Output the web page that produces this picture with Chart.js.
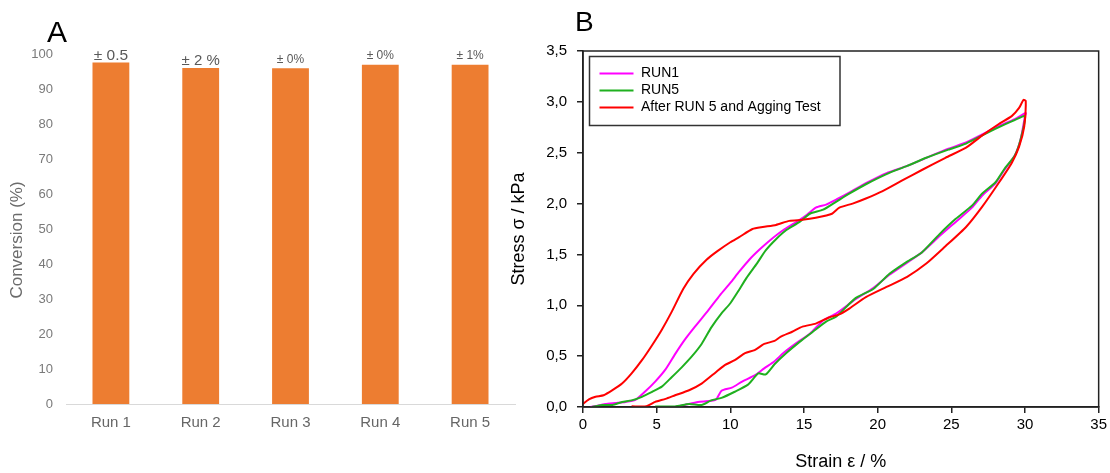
<!DOCTYPE html>
<html><head><meta charset="utf-8">
<script src="https://cdn.jsdelivr.net/npm/chart.js@4/dist/chart.umd.min.js"></script>
<style>
html,body{margin:0;padding:0;background:#fff;width:1110px;height:473px;overflow:hidden;}
#wrapA{position:absolute;left:0;top:0;width:520px;height:473px;}
#wrapB{position:absolute;left:500px;top:0;width:610px;height:473px;}
canvas{display:block;}
</style></head><body>
<div id="wrapA"><canvas id="chartA" width="520" height="473"></canvas></div>
<div id="wrapB"><canvas id="chartB" width="610" height="473"></canvas></div>
<script>
// ---------- Panel A data ----------
const runs = ['Run 1', 'Run 2', 'Run 3', 'Run 4', 'Run 5'];
const conversion = [97.6, 96.0, 95.9, 96.9, 96.9];
const conversionErr = ['± 0.5', '± 2 %', '± 0%', '± 0%', '± 1%'];

// ---------- Panel B data ----------
const strainTicks = ['0', '5', '10', '15', '20', '25', '30', '35'];
const stressTicks = ['0,0', '0,5', '1,0', '1,5', '2,0', '2,5', '3,0', '3,5'];
const seriesNames = ['RUN1', 'RUN5', 'After RUN 5 and Agging Test'];

const run1Strain = [0.5,0.85,1.5,2.2,2.9,3.55,4.2,4.9,5.6,6.25,6.9,7.6,8.5,9.3,10.0,10.6,11.3,12.0,12.7,13.6,14.5,15.2,15.8,16.5,17.2,18.1,19.2,20.6,22.0,23.3,24.8,26.0,27.1,28.2,29.3,30.05,
  30.0,29.7,29.3,28.6,28.0,27.1,26.4,25.3,24.2,23.0,21.9,20.8,19.7,18.5,17.2,16.3,15.4,14.5,13.6,13.0,12.3,11.65,10.8,10.1,9.4,9.0,7.8,6.9,6.25];
const run1Stress = [0,0.01,0.03,0.04,0.05,0.07,0.15,0.25,0.37,0.52,0.66,0.79,0.95,1.10,1.22,1.33,1.45,1.55,1.64,1.74,1.82,1.89,1.96,1.99,2.04,2.11,2.20,2.30,2.37,2.45,2.54,2.60,2.68,2.76,2.83,2.89,
  2.86,2.63,2.47,2.33,2.20,2.08,1.96,1.82,1.68,1.52,1.41,1.30,1.17,1.06,0.92,0.85,0.72,0.63,0.53,0.45,0.38,0.31,0.25,0.19,0.16,0.07,0.05,0.02,0];

const run5Strain = [0.6,1.3,2.0,2.65,3.3,4.0,4.7,5.35,6.0,6.7,7.4,8.05,8.7,9.4,10.0,10.5,11.1,11.8,12.4,13.1,13.8,14.7,15.4,16.3,17.2,18.1,19.2,20.6,22.0,23.3,24.8,26.0,27.1,28.2,29.3,30.0,
  29.7,29.3,28.6,28.0,27.1,26.4,25.3,24.2,23.0,21.9,20.8,19.7,18.5,17.2,16.5,15.6,14.7,13.8,13.0,12.4,11.9,11.2,10.3,9.4,8.7,8.05,7.2,6.25,4.9];
const run5Stress = [0,0.02,0.02,0.05,0.065,0.10,0.15,0.20,0.29,0.39,0.50,0.62,0.78,0.92,1.02,1.13,1.27,1.41,1.54,1.65,1.74,1.82,1.90,1.94,2.02,2.10,2.19,2.29,2.37,2.45,2.53,2.59,2.67,2.75,2.82,2.86,
  2.63,2.47,2.34,2.21,2.10,1.98,1.85,1.70,1.52,1.42,1.31,1.16,1.07,0.89,0.84,0.74,0.64,0.53,0.42,0.32,0.33,0.22,0.15,0.09,0.065,0.02,0.03,0.005,0.005];

const agedStrain = [0,0.4,0.85,1.4,2.0,2.65,3.3,4.0,4.7,5.35,6.0,6.8,7.5,8.4,9.1,10.0,10.6,11.5,12.2,13.1,14.0,14.9,15.8,16.9,17.4,18.3,19.2,20.3,21.7,23.0,24.6,26.0,27.1,28.2,29.1,29.6,29.9,30.05,
  29.95,29.6,29.1,28.2,27.1,26.0,24.6,23.3,22.0,20.6,19.2,18.1,17.4,16.7,15.8,14.9,14.2,13.4,13.0,12.3,11.65,11.0,10.3,9.6,9.0,8.05,7.2,6.25,5.6,4.9,4.3,3.3];
const agedStress = [0.03,0.075,0.10,0.115,0.165,0.23,0.33,0.46,0.61,0.76,0.93,1.16,1.31,1.45,1.53,1.62,1.67,1.75,1.77,1.79,1.83,1.84,1.86,1.90,1.96,2.00,2.05,2.12,2.23,2.33,2.45,2.55,2.67,2.78,2.86,2.94,3.02,3.01,
  2.76,2.56,2.40,2.20,1.97,1.77,1.58,1.41,1.28,1.18,1.08,0.97,0.91,0.88,0.82,0.79,0.74,0.69,0.65,0.62,0.56,0.53,0.46,0.41,0.34,0.23,0.165,0.115,0.08,0.05,0.007,0.007];

// ---------- styles ----------
const FONT = "'Liberation Sans', Arial, sans-serif";
const errFontSizes = [15.5, 15, 12, 12, 12];
const errGaps = [2.5, 3, 5.5, 5.5, 5.5];
const seriesColors = ['#ff00ff', '#1fb01f', '#ff0000'];
Chart.defaults.font.family = FONT;

const toPoints = (xs, ys) => xs.map((x, i) => ({ x: x, y: ys[i] }));

// ---------- Panel A ----------
const barLabelPlugin = {
  id: 'barLabels',
  afterDatasetsDraw(chart) {
    const ctx = chart.ctx;
    const meta = chart.getDatasetMeta(0);
    ctx.save();
    ctx.fillStyle = '#595959';
    ctx.textAlign = 'center';
    ctx.textBaseline = 'alphabetic';
    meta.data.forEach((bar, i) => {
      ctx.font = errFontSizes[i] + 'px ' + FONT;
      ctx.fillText(conversionErr[i], bar.x, bar.y - errGaps[i]);
    });
    ctx.restore();
  }
};
const panelAPlugin = {
  id: 'panelA',
  afterDraw(chart) {
    const ctx = chart.ctx;
    ctx.save();
    ctx.font = '30px ' + FONT;
    ctx.fillStyle = '#000';
    ctx.textAlign = 'left';
    ctx.textBaseline = 'alphabetic';
    ctx.fillText('A', 47, 42);
    ctx.translate(17.5, 240);
    ctx.rotate(-Math.PI / 2);
    ctx.font = '17px ' + FONT;
    ctx.fillStyle = '#6b6b6b';
    ctx.textAlign = 'center';
    ctx.textBaseline = 'middle';
    ctx.fillText('Conversion (%)', 0, 0);
    ctx.restore();
  }
};

new Chart(document.getElementById('chartA'), {
  type: 'bar',
  data: {
    labels: runs,
    datasets: [{ data: conversion, backgroundColor: '#ED7D31', borderWidth: 0, barPercentage: 0.41, categoryPercentage: 1 }]
  },
  options: {
    responsive: false, animation: false, devicePixelRatio: 1,
    layout: { padding: { left: 0, top: 54, right: 5, bottom: 0 } },
    plugins: { legend: { display: false }, tooltip: { enabled: false } },
    scales: {
      x: {
        grid: { display: false, drawTicks: false },
        border: { display: true, color: '#d9d9d9', width: 1 },
        ticks: { color: '#666', font: { size: 15 }, padding: 10 },
        afterFit: s => { s.height = 69; }
      },
      y: {
        min: 0, max: 100,
        ticks: { stepSize: 10, color: '#7a7a7a', font: { size: 13 }, padding: 13 },
        grid: { display: false, drawTicks: false },
        border: { display: false },
        afterFit: s => { s.width = 66; }
      }
    }
  },
  plugins: [barLabelPlugin, panelAPlugin]
});

// ---------- Panel B ----------
const frameLegendPlugin = {
  id: 'frameLegend',
  afterDraw(chart) {
    const ctx = chart.ctx;
    const a = chart.chartArea;
    ctx.save();
    ctx.strokeStyle = '#222';
    ctx.lineWidth = 1.5;
    ctx.strokeRect(a.left, a.top, a.right - a.left, a.bottom - a.top);
    const bx = 89.5, by = 56.5, bw = 250.5, bh = 69;
    ctx.fillStyle = '#fff';
    ctx.fillRect(bx, by, bw, bh);
    ctx.strokeStyle = '#333';
    ctx.lineWidth = 1.5;
    ctx.strokeRect(bx, by, bw, bh);
    ctx.font = '14px ' + FONT;
    ctx.textBaseline = 'middle';
    ctx.textAlign = 'left';
    ctx.fillStyle = '#000';
    const rows = [73.5, 90.5, 107.5];
    chart.data.datasets.forEach((ds, i) => {
      ctx.strokeStyle = ds.borderColor;
      ctx.lineWidth = 2;
      ctx.beginPath();
      ctx.moveTo(99.5, rows[i]);
      ctx.lineTo(133.5, rows[i]);
      ctx.stroke();
      ctx.fillText(ds.label, 141, rows[i]);
    });
    ctx.font = '28px ' + FONT;
    ctx.textBaseline = 'alphabetic';
    ctx.fillText('B', 75, 31);
    ctx.restore();
  }
};

const axisGrid = { drawOnChartArea: false, drawTicks: true, tickLength: 6, color: '#222', lineWidth: 1.5 };
const axisBorder = { display: true, color: '#222', width: 1.5 };

new Chart(document.getElementById('chartB'), {
  type: 'scatter',
  data: {
    datasets: [
      { label: seriesNames[0], data: toPoints(run1Strain, run1Stress), borderColor: seriesColors[0], order: 2 },
      { label: seriesNames[1], data: toPoints(run5Strain, run5Stress), borderColor: seriesColors[1], order: 1 },
      { label: seriesNames[2], data: toPoints(agedStrain, agedStress), borderColor: seriesColors[2], order: 0 }
    ].map(d => Object.assign(d, { showLine: true, pointRadius: 0, borderWidth: 2, tension: 0.2, fill: false, backgroundColor: d.borderColor }))
  },
  options: {
    responsive: false, animation: false, devicePixelRatio: 1,
    layout: { padding: { left: 0, top: 51, right: 10, bottom: 0 } },
    plugins: { legend: { display: false }, tooltip: { enabled: false } },
    scales: {
      x: {
        type: 'linear', min: 0, max: 35,
        ticks: { stepSize: 5, color: '#000', font: { size: 15 }, padding: 3, callback: (v, i) => strainTicks[i] },
        grid: axisGrid, border: axisBorder,
        title: { display: true, text: 'Strain ε / %', color: '#000', font: { size: 18 }, padding: { top: 0, bottom: 0 } },
        afterFit: s => { s.height = 66; }
      },
      y: {
        min: 0, max: 3.5,
        ticks: { stepSize: 0.5, color: '#000', font: { size: 15 }, padding: 10, callback: (v, i) => stressTicks[i] },
        grid: axisGrid, border: axisBorder,
        title: { display: true, text: 'Stress σ / kPa', color: '#000', font: { size: 18 }, padding: { top: 8, bottom: 0 } },
        afterFit: s => { s.width = 83; }
      }
    }
  },
  plugins: [frameLegendPlugin]
});
</script>
</body></html>
